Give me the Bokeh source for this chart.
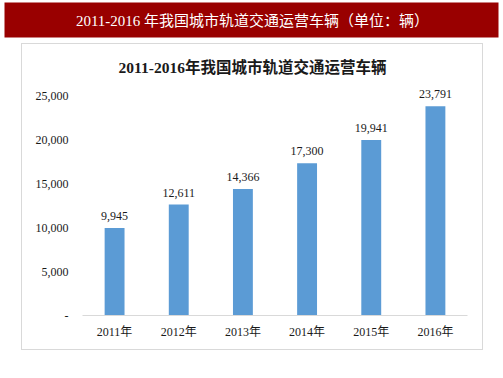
from bokeh.plotting import figure
from bokeh.layouts import column
from bokeh.models import (ColumnDataSource, Range1d, FactorRange, FixedTicker,
                          NumeralTickFormatter, LabelSet, Label)
from bokeh.embed import file_html
from bokeh.resources import INLINE

# ---- data ----
years = ["2011年", "2012年", "2013年", "2014年", "2015年", "2016年"]
vehicles = [9945, 12611, 14366, 17300, 19941, 23791]
y_ticks = [0, 5000, 10000, 15000, 20000, 25000]
header_text = "2011-2016 年我国城市轨道交通运营车辆（单位：辆）"
title_text = "2011-2016年我国城市轨道交通运营车辆"

value_labels = [f"{v:,}" for v in vehicles]

FONT = "Liberation Serif, Noto Sans CJK SC"
TEXT_COLOR = "#1a1a1a"
BAR_COLOR = "#5B9BD5"
HEADER_RED = "#990000"

# ---- header bar ----
hdr = figure(width=503, height=40, output_backend="svg", toolbar_location=None,
             x_axis_type=None, y_axis_type=None,
             x_range=Range1d(0, 1), y_range=Range1d(0, 1),
             min_border_left=4, min_border_right=5, min_border_top=2, min_border_bottom=3)
hdr.outline_line_color = None
hdr.grid.visible = False
hdr.background_fill_color = HEADER_RED
hdr.border_fill_color = "white"
hdr.add_layout(Label(x=248, y=17, x_units="screen", y_units="screen",
                     text=header_text, text_align="center", text_baseline="middle",
                     text_color="white", text_font=FONT, text_font_size="15px"))

# ---- chart ----
FIG_X0, FIG_Y0 = 22, 44          # page position of chart figure
FIG_W, FIG_H = 460, 305
F_LEFT, F_RIGHT, F_TOP, F_BOTTOM = 82, 467, 51, 315   # frame, page coords

source = ColumnDataSource(dict(year=years, value=vehicles, label=value_labels))

p = figure(width=FIG_W, height=FIG_H, output_backend="svg", toolbar_location=None,
           x_range=FactorRange(*years, range_padding=0),
           y_range=Range1d(0, 30000),
           min_border_left=F_LEFT - FIG_X0, min_border_right=FIG_X0 + FIG_W - F_RIGHT,
           min_border_top=F_TOP - FIG_Y0, min_border_bottom=FIG_Y0 + FIG_H - F_BOTTOM)
p.outline_line_color = None
p.background_fill_color = "white"
p.border_fill_color = "white"
p.grid.visible = False

p.add_layout(Label(x=252 - F_LEFT, y=F_BOTTOM - 67, x_units="screen", y_units="screen",
                   text=title_text, text_align="center", text_baseline="middle",
                   text_color=TEXT_COLOR, text_font=FONT, text_font_size="15.5px",
                   text_font_style="bold"))

p.vbar(x="year", top="value", width=0.31, source=source,
       fill_color=BAR_COLOR, line_color=None)

p.add_layout(LabelSet(x="year", y="value", text="label", source=source,
                      text_align="center", text_baseline="alphabetic", y_offset=8,
                      text_font=FONT, text_font_size="12px", text_color=TEXT_COLOR))

# y axis
ya = p.yaxis[0]
ya.ticker = FixedTicker(ticks=y_ticks)
ya.formatter = NumeralTickFormatter(format="0,0")
ya.major_label_overrides = {0: "-"}
ya.axis_line_color = None
ya.major_tick_in = 0
ya.major_tick_out = 0
ya.minor_tick_in = 0
ya.minor_tick_out = 0
ya.major_label_standoff = 14
ya.major_label_text_font = FONT
ya.major_label_text_font_size = "12px"
ya.major_label_text_color = TEXT_COLOR

# x axis
xa = p.xaxis[0]
xa.axis_line_color = "#d9d9d9"
xa.axis_line_width = 1
xa.major_tick_in = 0
xa.major_tick_out = 0
xa.minor_tick_in = 0
xa.minor_tick_out = 0
xa.major_label_standoff = 9
xa.major_label_text_font = FONT
xa.major_label_text_font_size = "12px"
xa.major_label_text_color = TEXT_COLOR

box = column(p, margin=(3, 0, 0, 21), styles={"border": "1px solid #d9d9d9"})
layout = column(hdr, box, spacing=0)

open("out.html", "w").write(file_html(layout, INLINE))
